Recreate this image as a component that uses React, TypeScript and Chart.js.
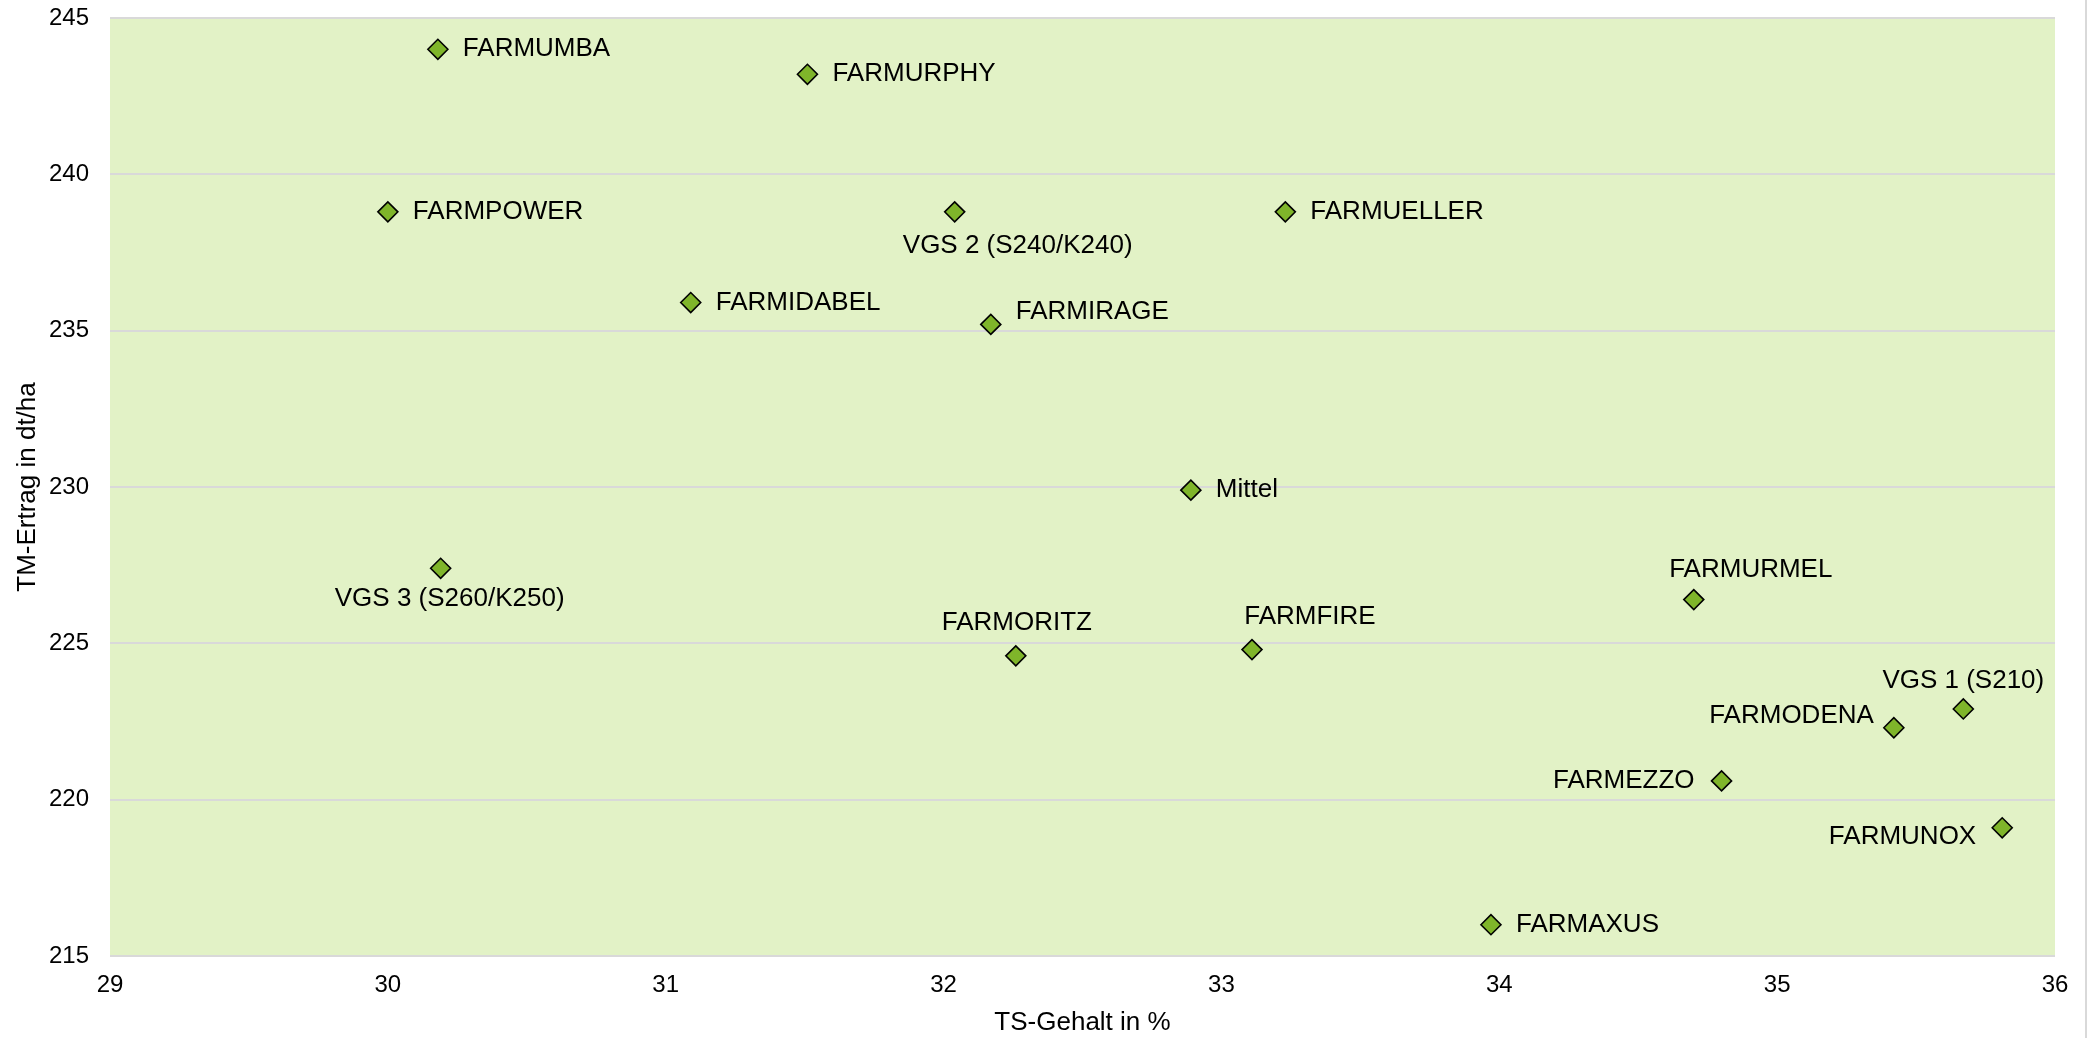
import React, { useEffect, useRef } from "react";
import { Chart, registerables } from "chart.js";

Chart.register(...registerables);

const sorten = [
  "FARMUMBA", "FARMURPHY", "FARMPOWER", "VGS 2 (S240/K240)", "FARMUELLER",
  "FARMIDABEL", "FARMIRAGE", "Mittel", "VGS 3 (S260/K250)", "FARMURMEL",
  "FARMORITZ", "FARMFIRE", "VGS 1 (S210)", "FARMODENA", "FARMUNOX",
  "FARMEZZO", "FARMAXUS",
];
const tsGehalt = [
  30.18, 31.51, 30.0, 32.04, 33.23,
  31.09, 32.17, 32.89, 30.19, 34.70,
  32.26, 33.11, 35.67, 35.42, 35.81,
  34.80, 33.97,
];
const tmErtrag = [
  244.0, 243.2, 238.8, 238.8, 238.8,
  235.9, 235.2, 229.9, 227.4, 226.4,
  224.6, 224.8, 222.9, 222.3, 219.1,
  220.6, 216.0,
];
const xTicks = [29, 30, 31, 32, 33, 34, 35, 36];
const yTicks = [215, 220, 225, 230, 235, 240, 245];

// label placement relative to the marker: [dx, dy, textAlign]
const labelPlacement: [number, number, CanvasTextAlign][] = [
  [25, 0, "left"], [25, 0, "left"], [25, 0, "left"], [63, 34, "center"], [25, 0, "left"],
  [25, 0, "left"], [25, -13, "left"], [25, 0, "left"], [9, 31, "center"], [57, -30, "center"],
  [1, -33, "center"], [58, -33, "center"], [0, -28, "center"], [-20, -12, "right"], [-26, 9, "right"],
  [-27, 0, "right"], [25, 0, "left"],
];

const FONT = "'Liberation Sans', Arial, sans-serif";

const bgPlugin = {
  id: "bgPlugin",
  beforeDraw(chart: any) {
    const { ctx, chartArea } = chart;
    ctx.save();
    ctx.fillStyle = "#ffffff";
    ctx.fillRect(0, 0, chart.width, chart.height);
    ctx.fillStyle = "#e2f2c6";
    ctx.fillRect(chartArea.left, chartArea.top, chartArea.right - chartArea.left, chartArea.bottom - chartArea.top);
    ctx.fillStyle = "#d9d9d9";
    ctx.fillRect(2085, 0, 2, chart.height);
    ctx.restore();
  },
};

const labelPlugin = {
  id: "labelPlugin",
  afterDatasetsDraw(chart: any) {
    const { ctx } = chart;
    const meta = chart.getDatasetMeta(0);
    ctx.save();
    ctx.font = `26px ${FONT}`;
    ctx.fillStyle = "#000000";
    ctx.textBaseline = "middle";
    meta.data.forEach((el: any, i: number) => {
      const [dx, dy, align] = labelPlacement[i];
      ctx.textAlign = align;
      ctx.fillText(sorten[i], el.x + dx, el.y + dy);
    });
    ctx.restore();
  },
};

export default function App() {
  const ref = useRef<HTMLCanvasElement | null>(null);
  useEffect(() => {
    document.body.style.margin = "0";
    document.body.style.overflow = "hidden";
    if (!ref.current) return;
    const chart = new Chart(ref.current, {
      type: "scatter",
      data: {
        datasets: [
          {
            label: "Sorten",
            data: tsGehalt.map((x, i) => ({ x, y: tmErtrag[i] })),
            pointStyle: "rectRot",
            pointRadius: 10,
            pointHoverRadius: 10,
            pointBackgroundColor: "#7fb52a",
            pointBorderColor: "#000000",
            pointBorderWidth: 1.6,
          },
        ],
      },
      options: {
        animation: false,
        responsive: false,
        devicePixelRatio: 1,
        layout: { padding: { top: 18, right: 38, left: 0, bottom: 0 } },
        plugins: { legend: { display: false }, tooltip: { enabled: false } },
        scales: {
          x: {
            type: "linear",
            min: 29,
            max: 36,
            afterBuildTicks: (s: any) => { s.ticks = xTicks.map((v) => ({ value: v })); },
            afterFit: (s: any) => { s.height = 82; s.paddingLeft = 0; s.paddingRight = 0; },
            grid: { display: false, drawTicks: false },
            border: { display: false },
            ticks: { color: "#000", font: { family: FONT, size: 24 }, padding: 15, maxRotation: 0 },
            title: { display: true, text: "TS-Gehalt in %", color: "#000", font: { family: FONT, size: 26 }, padding: { top: 0, bottom: 0 } },
          },
          y: {
            type: "linear",
            min: 215,
            max: 245,
            afterBuildTicks: (s: any) => { s.ticks = yTicks.map((v) => ({ value: v })); },
            afterFit: (s: any) => { s.width = 110; s.paddingTop = 0; s.paddingBottom = 0; },
            grid: { color: "#d9d9d9", lineWidth: 2, drawTicks: false },
            border: { display: false },
            ticks: { color: "#000", font: { family: FONT, size: 24 }, padding: 21 },
            title: { display: true, text: "TM-Ertrag in dt/ha", color: "#000", font: { family: FONT, size: 26 }, padding: { top: 12, bottom: 0 } },
          },
        },
      },
      plugins: [bgPlugin, labelPlugin],
    });
    return () => chart.destroy();
  }, []);
  return (
    <div style={{ width: 2093, height: 1038 }}>
      <canvas ref={ref} width={2093} height={1038} style={{ display: "block" }} />
    </div>
  );
}
